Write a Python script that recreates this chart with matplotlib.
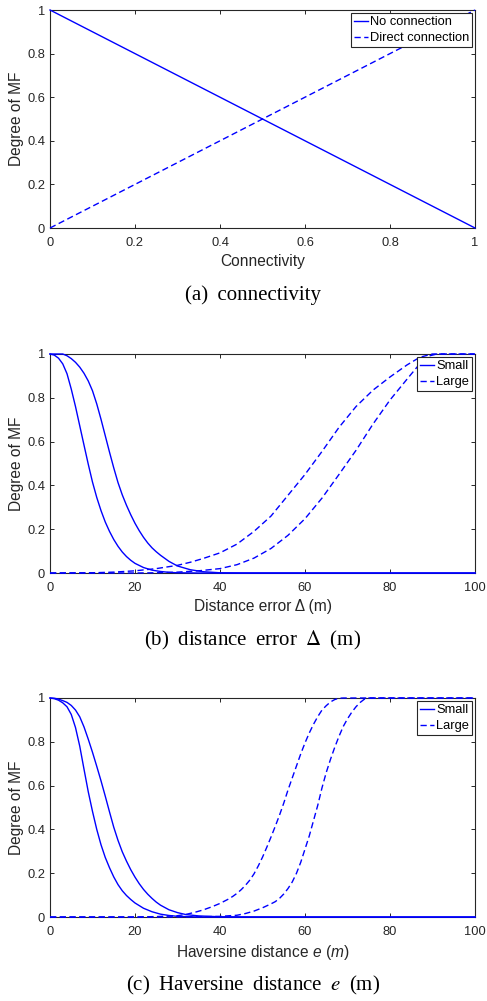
import matplotlib
matplotlib.use("Agg")
import matplotlib.pyplot as plt
from matplotlib.ticker import FuncFormatter

plt.rcParams['font.family'] = ['Liberation Sans', 'DejaVu Sans']
plt.rcParams['mathtext.fontset'] = 'custom'
plt.rcParams['mathtext.rm'] = 'Liberation Sans'
plt.rcParams['mathtext.it'] = 'Liberation Sans:italic'

# (a) connectivity
conn_x = [0, 1]
no_conn = [1, 0]
direct_conn = [0, 1]

# (b) distance error
b_small1_x = [0, 1, 2, 3, 4, 5, 6, 7, 8, 9, 10, 11, 12, 13, 14, 15, 16, 17, 18, 19, 20, 22, 24, 26, 28, 30, 35, 100]
b_small1_y = [1.0, 0.995, 0.981, 0.955, 0.91, 0.84, 0.76, 0.672, 0.584, 0.497, 0.415, 0.345, 0.285, 0.233, 0.19,
              0.153, 0.122, 0.096, 0.075, 0.058, 0.044, 0.025, 0.013, 0.007, 0.003, 0.001, 0, 0]
b_small2_x = [0, 3, 4, 5, 6, 7, 8, 9, 10, 11, 12, 13, 14, 15, 16, 17, 18, 19, 20, 21, 22, 23, 24, 25, 26, 28, 30,
              33, 36, 40, 45, 100]
b_small2_y = [1, 1, 0.992, 0.979, 0.962, 0.94, 0.912, 0.877, 0.832, 0.772, 0.702, 0.627, 0.552, 0.48, 0.413, 0.357,
              0.309, 0.266, 0.227, 0.193, 0.163, 0.137, 0.115, 0.097, 0.081, 0.053, 0.032, 0.015, 0.006, 0.001, 0, 0]
b_large1_x = [0, 10, 15, 20, 25, 30, 33, 36, 40, 44, 48, 52, 56, 60, 64, 68, 72, 76, 80, 84, 87, 90, 100]
b_large1_y = [0, 0.001, 0.004, 0.01, 0.02, 0.035, 0.049, 0.066, 0.092, 0.132, 0.19, 0.26, 0.355, 0.45, 0.555,
              0.665, 0.76, 0.835, 0.895, 0.95, 0.985, 1, 1]
b_large2_x = [0, 20, 25, 30, 35, 40, 44, 48, 52, 56, 60, 64, 68, 72, 76, 80, 84, 87, 89, 91, 100]
b_large2_y = [0, 0, 0.001, 0.004, 0.01, 0.02, 0.038, 0.068, 0.112, 0.172, 0.248, 0.342, 0.45, 0.56, 0.68, 0.79,
              0.885, 0.955, 0.99, 1, 1]

# (c) haversine distance
c_small1_x = [0, 1, 2, 3, 4, 5, 6, 7, 8, 9, 10, 11, 12, 13, 14, 15, 16, 17, 18, 19, 20, 22, 24, 26, 28, 30, 35, 100]
c_small1_y = [1, 0.997, 0.99, 0.978, 0.96, 0.925, 0.865, 0.78, 0.675, 0.572, 0.482, 0.4, 0.33, 0.272, 0.225,
              0.183, 0.148, 0.12, 0.098, 0.08, 0.064, 0.04, 0.024, 0.013, 0.007, 0.003, 0, 0]
c_small2_x = [0, 1, 2, 3, 4, 5, 6, 7, 8, 9, 10, 11, 12, 13, 14, 15, 16, 17, 18, 19, 20, 21, 22, 23, 24, 25, 26,
              28, 30, 32, 35, 40, 45, 100]
c_small2_y = [1, 0.999, 0.995, 0.988, 0.98, 0.966, 0.945, 0.914, 0.868, 0.812, 0.752, 0.688, 0.622, 0.552, 0.48,
              0.41, 0.35, 0.298, 0.255, 0.216, 0.182, 0.152, 0.126, 0.104, 0.085, 0.068, 0.054, 0.033, 0.02, 0.011,
              0.005, 0.001, 0, 0]
c_large1_x = [0, 20, 25, 30, 32, 34, 36, 38, 40, 42, 43, 44, 45, 46, 47, 48, 49, 50, 51, 52, 53, 54, 55, 56, 57,
              58, 59, 60, 61, 62, 63, 64, 65, 66, 67, 68, 69, 100]
c_large1_y = [0, 0, 0.002, 0.006, 0.012, 0.021, 0.032, 0.046, 0.062, 0.082, 0.094, 0.108, 0.125, 0.145, 0.168,
              0.197, 0.233, 0.273, 0.318, 0.365, 0.414, 0.465, 0.52, 0.58, 0.635, 0.69, 0.745, 0.795, 0.84, 0.88,
              0.915, 0.945, 0.965, 0.982, 0.993, 0.999, 1, 1]
c_large2_x = [0, 30, 35, 40, 44, 46, 48, 50, 52, 53, 54, 55, 56, 57, 58, 59, 60, 61, 62, 63, 64, 65, 66, 67, 68,
              69, 70, 71, 72, 73, 74, 75, 100]
c_large2_y = [0, 0, 0.001, 0.003, 0.008, 0.016, 0.027, 0.042, 0.06, 0.07, 0.085, 0.105, 0.13, 0.16, 0.2, 0.25,
              0.31, 0.37, 0.44, 0.51, 0.59, 0.66, 0.72, 0.775, 0.825, 0.87, 0.905, 0.935, 0.96, 0.98, 0.995, 1, 1]

blue = '#0000ff'
dark = '#262626'
dash = (4.5, 2.5)

fig = plt.figure(figsize=(4.87, 10.01), dpi=100)
W, H = 487, 1001


def make_axes(top, bottom):
    ax = fig.add_axes([50 / W, 1 - bottom / H, 425 / W, (bottom - top) / H])
    for s in ax.spines.values():
        s.set_color(dark)
        s.set_linewidth(0.8)
    ax.tick_params(direction='in', top=True, right=True, length=3, width=0.7,
                   colors=dark, labelsize=9.3)
    ax.tick_params(axis='x', pad=6.5)
    ax.tick_params(axis='y', pad=3.5)
    ax.set_ylim(0, 1)
    ax.set_yticks([0, 0.2, 0.4, 0.6, 0.8, 1])
    ax.yaxis.set_major_formatter(FuncFormatter(lambda v, p: '%g' % round(v, 2)))
    ax.set_ylabel('Degree of MF', fontsize=11.2, color=dark, labelpad=2)
    return ax


def add_legend(ax, labels):
    leg = ax.legend(labels, loc='upper right', fontsize=9.3, frameon=True, fancybox=False,
                    framealpha=1, edgecolor=dark, borderpad=0.22, labelspacing=0.3,
                    handlelength=1.1, handletextpad=0.15, borderaxespad=0.25)
    leg.get_frame().set_linewidth(0.8)


def draw(ax, x, y, dashed=False):
    if dashed:
        ax.plot(x, y, color=blue, lw=1.0, dashes=dash, clip_on=False, zorder=3)
    else:
        ax.plot(x, y, color=blue, lw=1.0, clip_on=False, zorder=3)


# panel a
ax = make_axes(10, 228)
draw(ax, conn_x, no_conn)
draw(ax, conn_x, direct_conn, dashed=True)
ax.set_xlim(0, 1)
ax.set_xticks([0, 0.2, 0.4, 0.6, 0.8, 1])
ax.xaxis.set_major_formatter(FuncFormatter(lambda v, p: '%g' % round(v, 2)))
ax.set_xlabel('Connectivity', fontsize=11.2, color=dark, labelpad=3.5)
add_legend(ax, ['No connection', 'Direct connection'])

# panel b
ax = make_axes(354, 573)
draw(ax, b_small1_x, b_small1_y)
draw(ax, b_large1_x, b_large1_y, dashed=True)
draw(ax, b_small2_x, b_small2_y)
draw(ax, b_large2_x, b_large2_y, dashed=True)
ax.set_xlim(0, 100)
ax.set_xticks([0, 20, 40, 60, 80, 100])
ax.set_xlabel('Distance error Δ (m)', fontsize=11.2, color=dark, labelpad=3.5)
add_legend(ax, ['Small', 'Large'])

# panel c
ax = make_axes(698, 917)
draw(ax, c_small1_x, c_small1_y)
draw(ax, c_large1_x, c_large1_y, dashed=True)
draw(ax, c_small2_x, c_small2_y)
draw(ax, c_large2_x, c_large2_y, dashed=True)
ax.set_xlim(0, 100)
ax.set_xticks([0, 20, 40, 60, 80, 100])
ax.set_xlabel(r'Haversine distance $\mathit{e\ (m)}$', fontsize=11.2, color=dark, labelpad=3.5)
add_legend(ax, ['Small', 'Large'])

# captions
sp = ' \u2009'
cap = dict(ha='center', va='center', fontsize=15, family=['Liberation Serif', 'DejaVu Serif'],
           math_fontfamily='stix')
fig.text(253 / W, 1 - 295 / H, '(a)' + sp + 'connectivity', **cap)
fig.text(253 / W, 1 - 640 / H, '(b)' + sp + 'distance' + sp + 'error' + sp + r'$\Delta$' + sp + '(m)', **cap)
fig.text(253 / W, 1 - 985 / H, '(c)' + sp + 'Haversine' + sp + 'distance' + sp + r'$e$' + sp + '(m)', **cap)

fig.savefig('out.png', dpi=100)
